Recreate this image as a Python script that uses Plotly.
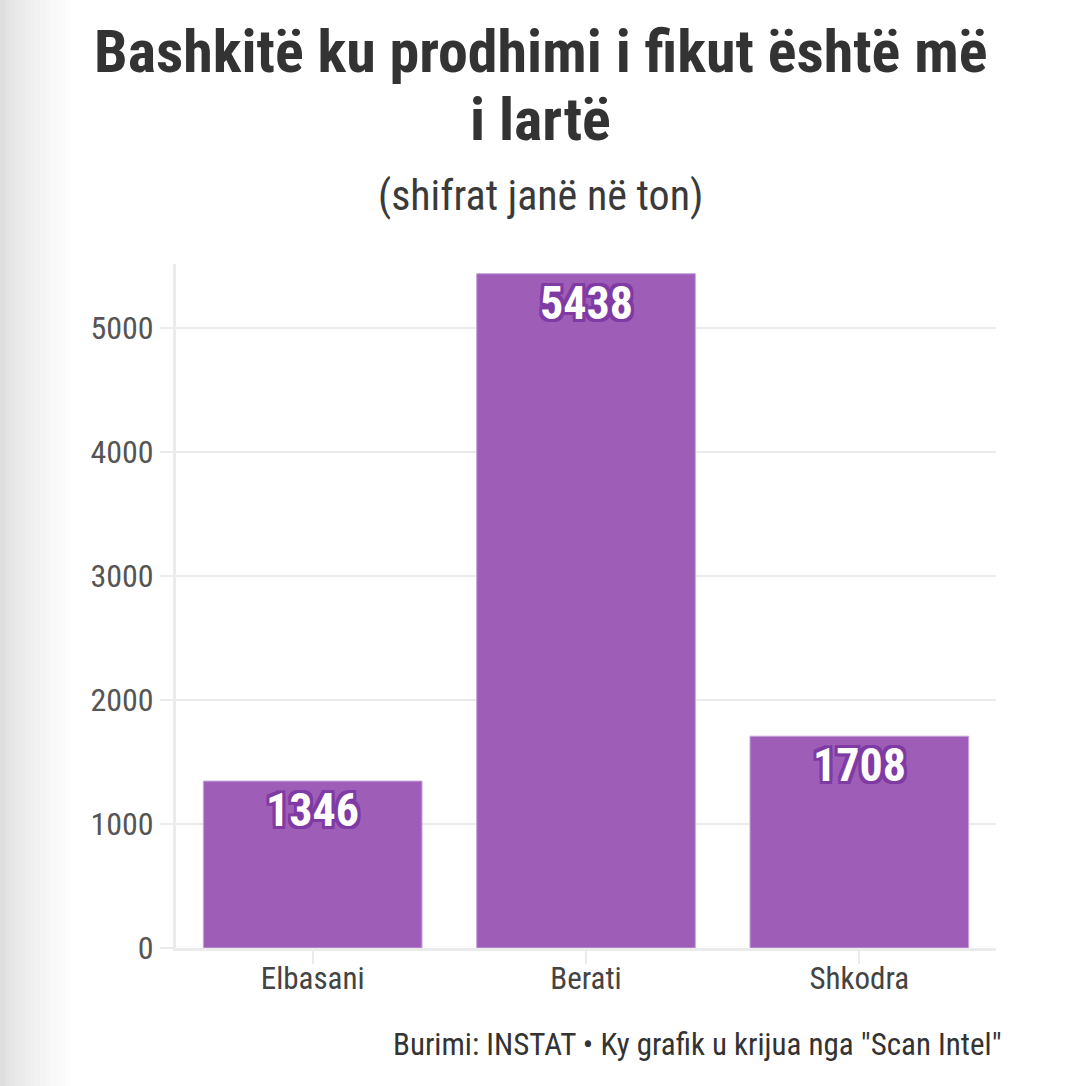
import plotly.graph_objects as go

# data
bashkite = ["Elbasani", "Berati", "Shkodra"]
prodhimi = [1346, 5438, 1708]
y_ticks = [0, 1000, 2000, 3000, 4000, 5000]

FONT = "Liberation Sans Narrow, Roboto Condensed, Roboto, sans-serif"
BAR = "rgba(155, 89, 182, 0.97)"
OUTLINE = "#7f3aa3"

# fig size and plot box (pixels)
W, H = 1080, 1086
L, R, T, B = 176, 84, 264, 138
pw, ph = W - L - R, H - T - B


def px_x(p):
    return (p - L) / pw


def px_y(p):
    return (H - B - p) / ph


fig = go.Figure()

fig.add_trace(go.Bar(
    x=bashkite,
    y=prodhimi,
    marker=dict(color=BAR, line=dict(color="#c9a3dc", width=1)),
    hoverinfo="x+y",
    showlegend=False,
))

# value labels with a purple outline
d = 3
shadow = ", ".join(f"{a}px {b}px 0 {OUTLINE}"
                   for a in (-d, 0, d) for b in (-d, 0, d) if (a, b) != (0, 0))
for k, v in zip(bashkite, prodhimi):
    fig.add_annotation(
        x=k, y=v, text=str(v), showarrow=False,
        yanchor="middle", yshift=-29,
        font=dict(family=FONT, size=46, color="white", weight="bold", shadow=shadow),
    )

# title, one annotation per line so the line gap can be set
title_lines = ["Bashkitë ku prodhimi i fikut është më", "i lartë"]
for i, line in enumerate(title_lines):
    fig.add_annotation(
        xref="paper", yref="paper", x=px_x(540), y=px_y(14 + 68 * i),
        text=line, showarrow=False,
        xanchor="center", yanchor="top",
        font=dict(family=FONT, size=60, color="#333333", weight="bold"),
    )

# subtitle
fig.add_annotation(
    xref="paper", yref="paper", x=px_x(540), y=px_y(195),
    text="(shifrat janë në ton)", showarrow=False,
    xanchor="center", yanchor="middle",
    font=dict(family=FONT, size=42, color="#3a3a3a"),
)

# source line
fig.add_annotation(
    xref="paper", yref="paper", x=px_x(1004), y=px_y(1044),
    text='Burimi: INSTAT • Ky grafik u krijua nga "Scan Intel"', showarrow=False,
    xanchor="right", yanchor="middle",
    font=dict(family=FONT, size=31, color="#333333"),
)

# grey shade down the left edge
steps = 14
for i in range(steps):
    g = int(222 + (255 - 222) * (i / steps) ** 0.7)
    fig.add_shape(
        type="rect", xref="paper", yref="paper", layer="below",
        x0=px_x(i * 5), x1=px_x(i * 5 + 5), y0=px_y(H + 10), y1=px_y(-10),
        fillcolor=f"rgb({g},{g},{g})", line=dict(width=0),
    )

fig.update_layout(
    width=W, height=H,
    margin=dict(l=L, r=R, t=T, b=B),
    paper_bgcolor="white",
    plot_bgcolor="white",
    bargap=0.2,
)

fig.update_yaxes(
    range=[0, 5516],
    tickvals=y_ticks,
    showgrid=True, gridcolor="#ebebeb", gridwidth=2,
    showline=True, linecolor="#ebebeb", linewidth=3,
    zeroline=False,
    ticks="outside", ticklen=13, tickcolor="#ebebeb", tickwidth=2,
    tickfont=dict(family=FONT, size=32, color="#555555"),
)

fig.update_xaxes(
    showgrid=False,
    showline=True, linecolor="#ebebeb", linewidth=3,
    ticks="outside", ticklen=13, tickcolor="#ebebeb", tickwidth=2,
    ticklabelstandoff=-12,
    tickfont=dict(family=FONT, size=31, color="#444444"),
)

fig.write_html("out.html", config={"displayModeBar": False},
               post_script="document.body.style.margin = '0';")
